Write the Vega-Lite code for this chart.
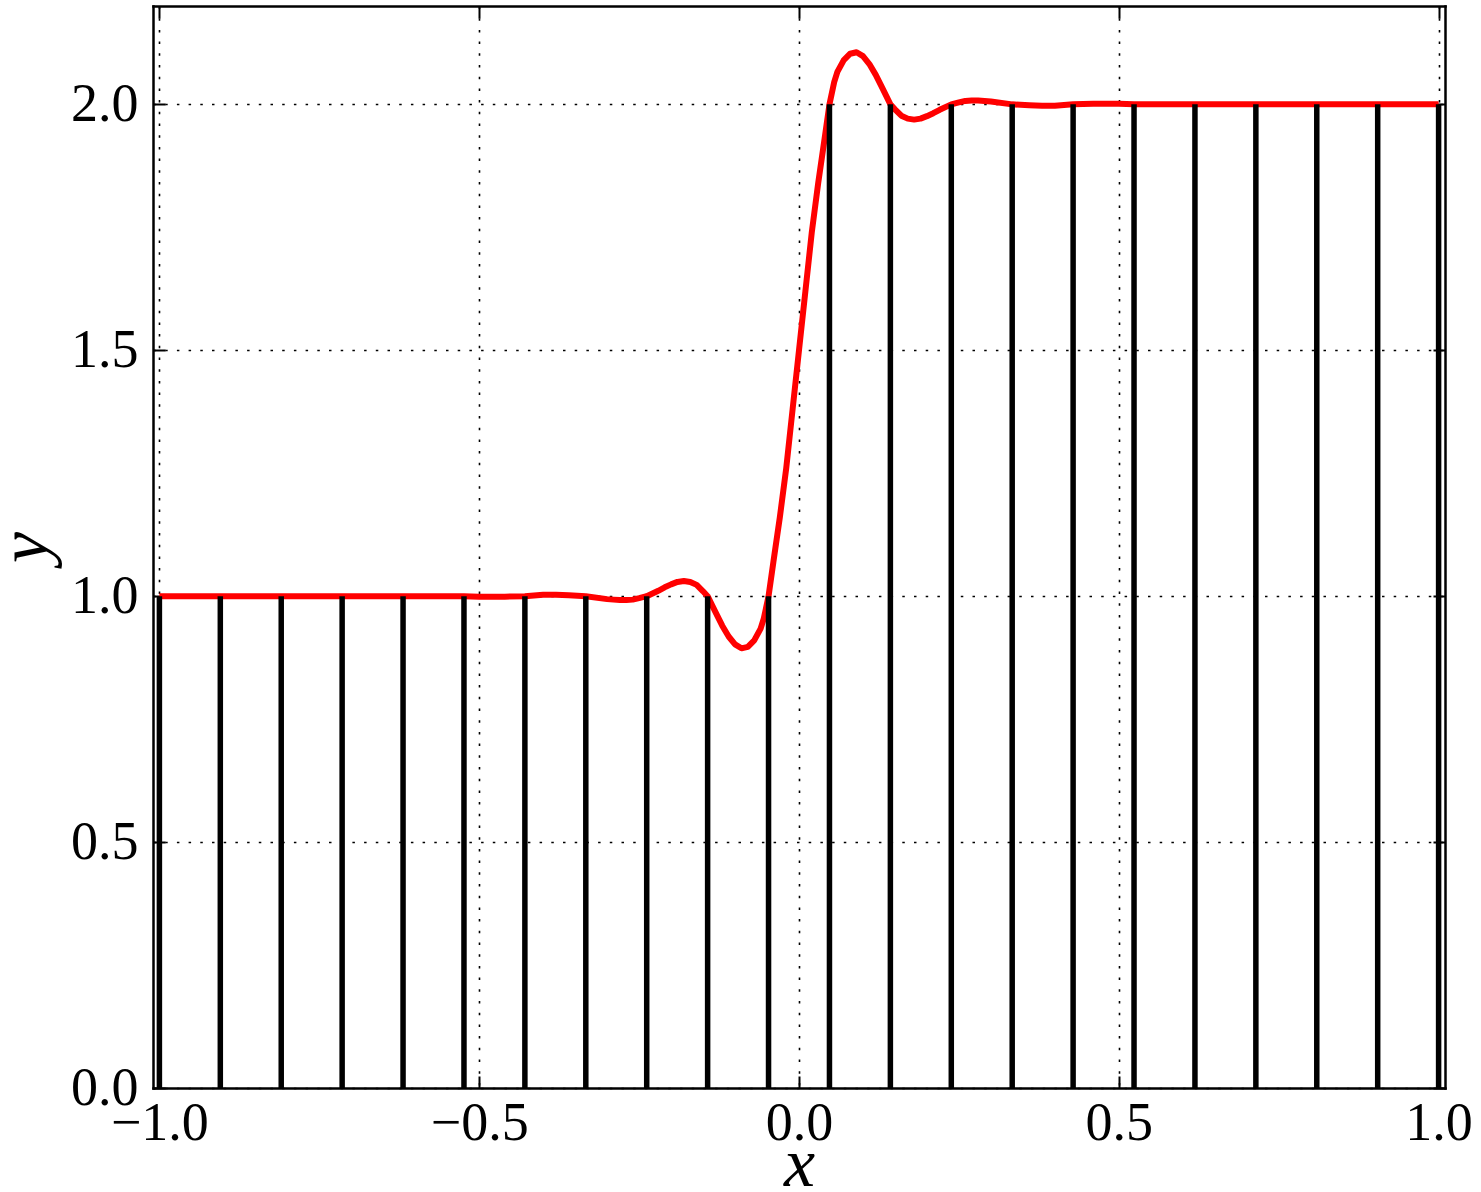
{
  "$schema": "https://vega.github.io/schema/vega-lite/v6.json",
  "width": 1292,
  "height": 1082,
  "autosize": {"type": "none"},
  "padding": {"left": 153, "top": 6, "right": 36, "bottom": 104},
  "background": "white",
  "datasets": {
    "curve": [
      {"x": -1.0, "y": 1.0}, {"x": -0.9, "y": 1.0}, {"x": -0.8, "y": 1.0}, {"x": -0.7, "y": 1.0},
      {"x": -0.6, "y": 1.0}, {"x": -0.5238, "y": 1.0}, {"x": -0.5, "y": 0.999}, {"x": -0.46, "y": 0.999},
      {"x": -0.4286, "y": 1.0}, {"x": -0.4, "y": 1.003}, {"x": -0.38, "y": 1.003}, {"x": -0.36, "y": 1.002},
      {"x": -0.3333, "y": 1.0}, {"x": -0.3, "y": 0.994}, {"x": -0.29, "y": 0.993}, {"x": -0.28, "y": 0.992},
      {"x": -0.27, "y": 0.992}, {"x": -0.26, "y": 0.993}, {"x": -0.25, "y": 0.996}, {"x": -0.2381, "y": 1.0},
      {"x": -0.22, "y": 1.011}, {"x": -0.21, "y": 1.018}, {"x": -0.2, "y": 1.024}, {"x": -0.19, "y": 1.029},
      {"x": -0.18, "y": 1.031}, {"x": -0.17, "y": 1.029}, {"x": -0.16, "y": 1.023}, {"x": -0.15, "y": 1.01},
      {"x": -0.1429, "y": 1.0}, {"x": -0.13, "y": 0.966}, {"x": -0.12, "y": 0.94}, {"x": -0.11, "y": 0.918},
      {"x": -0.1, "y": 0.902}, {"x": -0.09, "y": 0.894}, {"x": -0.08, "y": 0.897}, {"x": -0.07, "y": 0.91},
      {"x": -0.06, "y": 0.934}, {"x": -0.055, "y": 0.955}, {"x": -0.0476, "y": 1.0}, {"x": -0.04, "y": 1.07},
      {"x": -0.03, "y": 1.16}, {"x": -0.02, "y": 1.26}, {"x": -0.01, "y": 1.38}, {"x": 0.0, "y": 1.5},
      {"x": 0.01, "y": 1.62}, {"x": 0.02, "y": 1.74}, {"x": 0.03, "y": 1.84}, {"x": 0.04, "y": 1.93},
      {"x": 0.0476, "y": 2.0}, {"x": 0.055, "y": 2.045}, {"x": 0.06, "y": 2.066}, {"x": 0.07, "y": 2.09},
      {"x": 0.08, "y": 2.103}, {"x": 0.09, "y": 2.106}, {"x": 0.1, "y": 2.098}, {"x": 0.11, "y": 2.082},
      {"x": 0.12, "y": 2.06}, {"x": 0.13, "y": 2.034}, {"x": 0.1429, "y": 2.0}, {"x": 0.15, "y": 1.99},
      {"x": 0.16, "y": 1.977}, {"x": 0.17, "y": 1.971}, {"x": 0.18, "y": 1.969}, {"x": 0.19, "y": 1.971},
      {"x": 0.2, "y": 1.976}, {"x": 0.21, "y": 1.982}, {"x": 0.22, "y": 1.989}, {"x": 0.2381, "y": 2.0},
      {"x": 0.25, "y": 2.004}, {"x": 0.26, "y": 2.007}, {"x": 0.27, "y": 2.008}, {"x": 0.28, "y": 2.008},
      {"x": 0.29, "y": 2.007}, {"x": 0.3, "y": 2.006}, {"x": 0.3333, "y": 2.0}, {"x": 0.36, "y": 1.998},
      {"x": 0.38, "y": 1.997}, {"x": 0.4, "y": 1.997}, {"x": 0.4286, "y": 2.0}, {"x": 0.46, "y": 2.001},
      {"x": 0.5, "y": 2.001}, {"x": 0.5238, "y": 2.0}, {"x": 0.6, "y": 2.0}, {"x": 0.7, "y": 2.0},
      {"x": 0.8, "y": 2.0}, {"x": 0.9, "y": 2.0}, {"x": 1.0, "y": 2.0}
    ],
    "stems": [
      {"x": -1.0, "y": 1}, {"x": -0.90476, "y": 1}, {"x": -0.80952, "y": 1}, {"x": -0.71429, "y": 1},
      {"x": -0.61905, "y": 1}, {"x": -0.52381, "y": 1}, {"x": -0.42857, "y": 1}, {"x": -0.33333, "y": 1},
      {"x": -0.2381, "y": 1}, {"x": -0.14286, "y": 1}, {"x": -0.04762, "y": 1},
      {"x": 0.04762, "y": 2}, {"x": 0.14286, "y": 2}, {"x": 0.2381, "y": 2}, {"x": 0.33333, "y": 2},
      {"x": 0.42857, "y": 2}, {"x": 0.52381, "y": 2}, {"x": 0.61905, "y": 2}, {"x": 0.71429, "y": 2},
      {"x": 0.80952, "y": 2}, {"x": 0.90476, "y": 2}, {"x": 1.0, "y": 2}
    ]
  },
  "config": {
    "view": {"stroke": null},
    "axis": {
      "labelFont": "Liberation Serif",
      "labelFontSize": 54,
      "labelColor": "black",
      "labelFlush": false,
      "labelOverlap": false,
      "labelBound": false,
      "titleFont": "Liberation Serif",
      "titleFontSize": 70,
      "titleFontStyle": "italic",
      "titleFontWeight": "normal",
      "titleColor": "black",
      "gridColor": "black",
      "gridOpacity": 1,
      "gridWidth": 1.6,
      "gridDash": [2.5, 9.2],
      "tickColor": "black",
      "tickWidth": 2,
      "tickSize": -12,
      "domainColor": "black",
      "domainWidth": 2.5,
      "domainCap": "square",
      "zindex": 1
    }
  },
  "layer": [
    {
      "data": {"name": "curve"},
      "mark": {"type": "line", "color": "#ff0000", "strokeWidth": 6, "strokeJoin": "round"},
      "encoding": {
        "x": {
          "field": "x", "type": "quantitative",
          "scale": {"domain": [-1.01, 1.01], "nice": false, "zero": false},
          "axis": {"orient": "top", "values": [-1, -0.5, 0, 0.5, 1], "labels": false, "title": null, "grid": false}
        },
        "y": {
          "field": "y", "type": "quantitative",
          "scale": {"domain": [0, 2.2], "nice": false},
          "axis": {"orient": "right", "values": [0, 0.5, 1, 1.5, 2], "labels": false, "title": null, "grid": false}
        }
      }
    },
    {
      "data": {"name": "stems"},
      "mark": {"type": "rule", "color": "black", "strokeWidth": 5.5},
      "encoding": {
        "x": {
          "field": "x", "type": "quantitative",
          "axis": {
            "orient": "bottom", "values": [-1, -0.5, 0, 0.5, 1], "format": ".1f",
            "labelExpr": "replace(datum.label, '-', '\u2212')",
            "labelPadding": 20, "grid": true,
            "title": "x", "titleBaseline": "alphabetic", "titleY": 97
          }
        },
        "y": {
          "field": "y", "type": "quantitative",
          "axis": {
            "orient": "left", "values": [0, 0.5, 1, 1.5, 2], "format": ".1f",
            "labelPadding": 27, "grid": true,
            "title": "y", "titleBaseline": "alphabetic", "titleX": -107
          }
        },
        "y2": {"datum": 0}
      }
    }
  ],
  "resolve": {"axis": {"x": "independent", "y": "independent"}}
}
